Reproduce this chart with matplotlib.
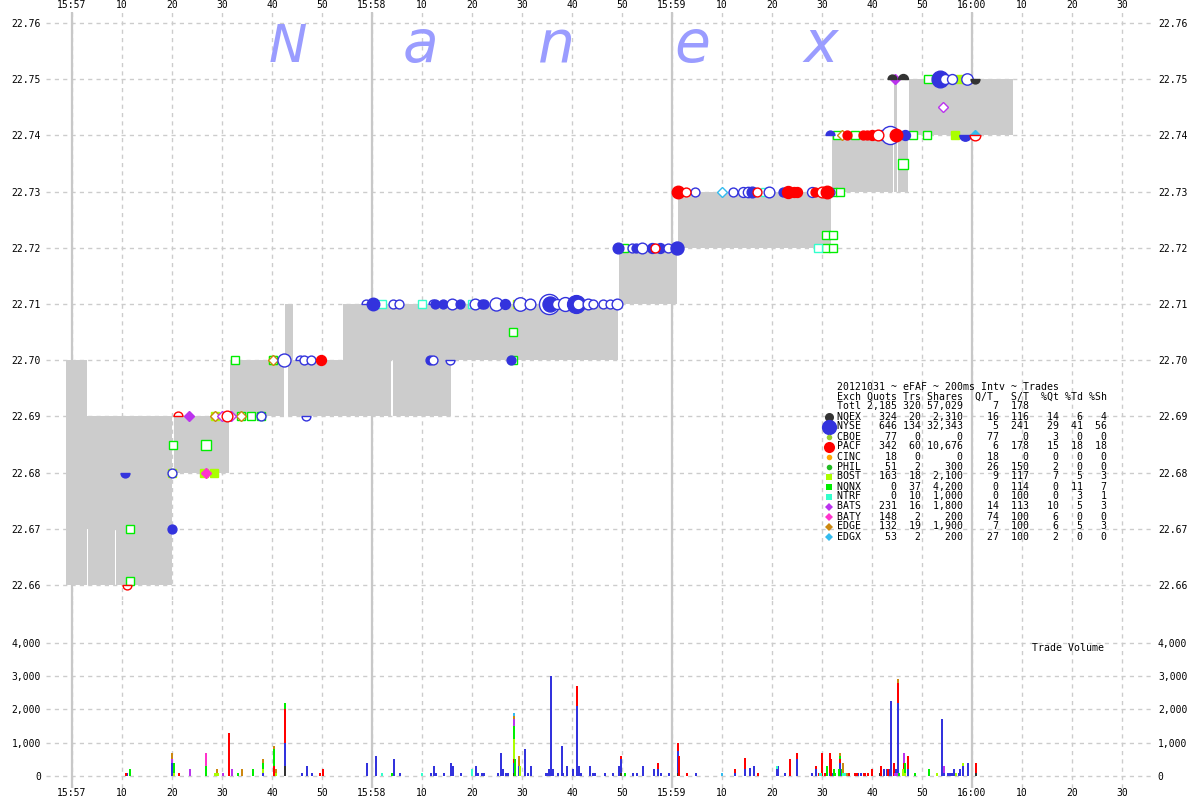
import matplotlib
matplotlib.use('Agg')
import matplotlib.pyplot as plt
from matplotlib.path import Path
from matplotlib.ticker import FuncFormatter
from collections import defaultdict
import numpy as np

# time axis: seconds after 15:57:00
# NBBO spread (start, end, bid, ask)
spr_t0 = [-1.2, 2.9, 3.2, 8.5, 8.8, 20.4, 31.6, 42.6, 43.2, 44.2, 54.2, 63.8, 64.2, 75.8,
          109.4, 121.2, 152.0, 164.4, 165.2, 167.4]
spr_t1 = [2.9, 3.2, 8.5, 8.8, 20.0, 31.4, 42.4, 43.2, 44.2, 54.2, 63.8, 64.2, 75.8, 109.2,
          121.0, 151.8, 164.2, 164.9, 167.2, 188.2]
spr_bid = [22.66, 22.67, 22.66, 22.67, 22.66, 22.68, 22.69, 22.70, 22.69, 22.69, 22.69, 22.70, 22.69, 22.70,
           22.71, 22.72, 22.73, 22.73, 22.73, 22.74]
spr_ask = [22.70, 22.69, 22.69, 22.69, 22.69, 22.69, 22.70, 22.71, 22.71, 22.70, 22.71, 22.71, 22.71, 22.71,
           22.72, 22.73, 22.74, 22.75, 22.74, 22.75]

# trade prints. kind: F filled, O hollow, T/t top half filled/hollow, B/b bottom half filled/hollow
nyse_t = [10.6, 20.0, 20.0, 37.8, 42.4, 45.6, 46.4, 47.8, 46.8, 58.8, 60.2, 64.2, 65.4, 71.6, 72.2, 75.6,
          72.2, 72.6, 74.2, 76.0, 77.6, 80.6, 82.0, 82.4, 84.8, 86.6, 87.8, 89.6, 91.6, 95.4, 95.6, 97.0,
          98.6, 100.8, 101.2, 103.2, 104.2, 106.2, 107.6, 109.0,
          109.2, 112.0, 112.8, 114.0, 116.0, 117.6, 119.2, 121.0,
          124.6, 132.2, 134.2, 135.2, 136.0, 139.4, 142.2, 148.0, 151.6,
          151.6, 162.0, 163.6, 166.6, 178.6, 173.6, 174.6, 176.0, 179.0]
nyse_px = [22.68, 22.68, 22.67, 22.69, 22.70, 22.70, 22.70, 22.70, 22.69, 22.71, 22.71, 22.71, 22.71, 22.70, 22.70, 22.70,
           22.71, 22.71, 22.71, 22.71, 22.71, 22.71, 22.71, 22.71, 22.71, 22.71, 22.70, 22.71, 22.71, 22.71, 22.71, 22.71,
           22.71, 22.71, 22.71, 22.71, 22.71, 22.71, 22.71, 22.71,
           22.72, 22.72, 22.72, 22.72, 22.72, 22.72, 22.72, 22.72,
           22.73, 22.73, 22.73, 22.73, 22.73, 22.73, 22.73, 22.73, 22.73,
           22.74, 22.74, 22.74, 22.74, 22.74, 22.75, 22.75, 22.75, 22.75]
nyse_sh = [100, 100, 100, 100, 700, 100, 100, 100, 100, 100, 600, 100, 100, 100, 100, 100,
           100, 100, 100, 300, 100, 300, 100, 100, 700, 200, 100, 800, 300, 3000, 1200, 200,
           900, 2100, 300, 300, 100, 100, 100, 300,
           300, 100, 100, 300, 200, 200, 100, 700,
           100, 100, 200, 250, 300, 300, 100, 200, 100,
           100, 200, 2200, 200, 400, 1700, 200, 200, 400]
nyse_kind = ['B', 'O', 'F', 'O', 'O', 't', 'O', 'O', 'b', 't', 'F', 'O', 'O', 'F', 'O', 'b',
             't', 'F', 'F', 'O', 'F', 'O', 'F', 'F', 'O', 'F', 'F', 'O', 'O', 'O', 'F', 'O',
             'O', 'F', 'O', 'O', 'O', 'O', 'O', 'O',
             'F', 'O', 'F', 'O', 'F', 'F', 'O', 'F',
             'O', 'O', 'O', 'O', 'F', 'O', 'F', 'O', 'O',
             'T', 'F', 'O', 'F', 'B', 'F', 'O', 'O', 'O']

pacf_t = [11.0, 21.2, 31.0, 49.8, 116.6, 121.2, 122.8, 137.0, 143.2, 144.4, 145.0, 148.6, 150.0, 151.0,
          155.0, 158.2, 159.0, 160.0, 161.2, 164.8, 180.6]
pacf_px = [22.66, 22.69, 22.69, 22.70, 22.72, 22.73, 22.73, 22.73, 22.73, 22.73, 22.73, 22.73, 22.73, 22.73,
           22.74, 22.74, 22.74, 22.74, 22.74, 22.74, 22.74]
pacf_sh = [100, 100, 300, 200, 100, 600, 100, 100, 500, 200, 200, 100, 300, 600,
           100, 100, 100, 200, 300, 600, 300]
pacf_kind = ['b', 't', 'O', 'F', 'O', 'F', 'O', 'O', 'F', 'F', 'F', 'F', 'O', 'F',
             'F', 'F', 'F', 'F', 'O', 'F', 'b']

nqex_t = [164.0, 166.2, 180.6]
nqex_px = [22.75, 22.75, 22.75]
nqex_sh = [100, 200, 100]
nqex_kind = ['T', 'T', 'B']

nqnx_t = [11.6, 11.6, 20.2, 26.8, 32.6, 33.8, 35.8, 37.8, 40.2, 88.2, 88.2, 110.4, 150.8, 152.2,
          150.8, 152.2, 152.2, 153.6, 153.0, 156.6, 165.0, 168.2, 171.0, 171.2, 166.2]
nqnx_px = [22.67, 22.6607, 22.685, 22.685, 22.70, 22.69, 22.69, 22.69, 22.70, 22.705, 22.70, 22.72, 22.7223, 22.7223,
           22.72, 22.72, 22.73, 22.73, 22.74, 22.74, 22.74, 22.74, 22.74, 22.75, 22.735]
nqnx_big = [0, 0, 0, 1, 0, 0, 0, 0, 0, 0, 0, 0, 0, 0, 0, 0, 0, 0, 0, 0, 0, 0, 0, 0, 1]

bost_t = [20.0, 26.4, 28.4, 28.6, 40.2, 89.0, 176.6, 177.6]
bost_px = [22.68, 22.68, 22.68, 22.69, 22.70, 22.71, 22.74, 22.75]
ntrf_t = [62.0, 70.0, 80.0, 138.6, 149.2]
ntrf_px = [22.71, 22.71, 22.71, 22.73, 22.72]

bats_t = [23.4, 30.0, 31.8, 164.6, 174.2]
bats_px = [22.69, 22.69, 22.69, 22.75, 22.745]
bats_kind = ['F', 'O', 'O', 'F', 'O']
baty_t = [26.8]
baty_px = [22.68]
edge_t = [28.6, 33.8, 40.2, 154.0]
edge_px = [22.69, 22.69, 22.70, 22.74]
edgx_t = [130.0, 180.6]
edgx_px = [22.73, 22.74]
edgx_kind = ['O', 'F']

# trade volume per 200ms interval
vol = {
    'NQEX': ([42.6, 88.4, 109.8, 121.2, 161.6, 166.4, 180.8],
             [300, 100, 100, 100, 100, 200, 100]),
    'NYSE': ([11.0, 20.0, 38.2, 42.6, 46.0, 47.0, 48.0, 59.0, 60.8, 64.4, 65.6, 71.8, 72.4, 72.8, 74.4, 75.8,
              76.2, 77.8, 80.8, 81.2, 82.0, 82.4, 85.2, 85.8, 86.2, 86.8, 87.2, 88.4, 89.4, 90.6, 91.2, 91.8,
              94.8, 95.2, 95.4, 95.8, 96.2, 97.2, 98.0, 98.2, 99.0, 100.2, 101.0, 101.4, 101.8, 103.6, 104.2,
              104.6, 106.6, 108.2, 109.4, 109.8, 112.2, 113.0, 114.2, 116.4, 117.2, 117.8, 119.4, 121.2, 124.8,
              132.6, 134.6, 135.6, 136.4, 141.0, 141.2, 142.6, 145.0, 148.0, 148.8, 151.6, 152.0, 153.6, 157.2,
              157.8, 162.4, 163.0, 163.6, 163.8, 164.8, 165.2, 167.2, 174.0, 174.4, 175.2, 175.6, 176.0, 176.4,
              176.6, 177.4, 177.6, 178.2, 179.2],
             [100, 400, 100, 700, 100, 300, 100, 400, 600, 500, 100, 100, 300, 100, 100, 400,
              300, 100, 300, 100, 100, 100, 100, 700, 200, 100, 100, 300, 300, 800, 100, 300,
              100, 100, 200, 3000, 200, 100, 900, 100, 300, 200, 2100, 300, 100, 300, 100,
              100, 100, 100, 300, 400, 100, 100, 300, 200, 200, 100, 100, 650, 100,
              100, 200, 250, 300, 200, 300, 100, 500, 100, 200, 100, 100, 400, 100,
              100, 200, 200, 200, 2250, 200, 2200, 200, 1700, 100, 100, 100, 100, 200,
              100, 100, 200, 300, 400]),
    'PACF': ([10.8, 21.4, 31.4, 40.4, 42.6, 49.6, 50.2, 88.4, 101.0, 109.8, 117.2, 121.2, 121.4, 123.0,
              132.6, 134.6, 137.2, 143.6, 145.0, 148.8, 149.4, 150.0, 150.6, 151.6, 151.8, 153.6, 155.4,
              156.6, 157.0, 158.4, 158.6, 159.2, 160.0, 161.8, 163.2, 164.4, 165.2, 166.4, 167.2, 180.8],
             [100, 100, 1300, 300, 1000, 100, 200, 100, 600, 100, 200, 250, 600, 100,
              100, 350, 100, 500, 200, 100, 100, 700, 100, 600, 500, 100, 100,
              100, 100, 100, 100, 100, 200, 300, 200, 400, 600, 200, 400, 300]),
    'NQNX': ([11.6, 20.4, 26.8, 33.2, 36.2, 38.2, 40.4, 42.6, 64.0, 88.4, 88.6, 110.6, 151.0, 152.4,
              152.6, 153.4, 153.6, 154.0, 165.4, 166.6, 168.6, 171.4],
             [200, 300, 300, 100, 200, 200, 500, 200, 100, 400, 500, 100, 300, 200,
              100, 200, 100, 200, 100, 300, 100, 200]),
    'BOST': ([20.4, 28.6, 29.0, 29.2, 38.2, 40.8, 88.4, 89.6, 166.2, 166.6, 173.0, 176.8, 178.2],
             [100, 100, 100, 100, 100, 100, 600, 300, 200, 100, 100, 100, 100]),
    'NTRF': ([62.0, 70.0, 80.0, 141.0, 149.6, 149.8, 154.2, 154.6],
             [100, 100, 200, 100, 100, 100, 100, 100]),
    'BATS': ([20.0, 23.6, 30.2, 32.0, 88.4, 164.6, 165.0, 166.4, 174.4],
             [100, 200, 100, 200, 200, 100, 100, 300, 200]),
    'BATY': ([26.8], [400]),
    'EDGE': ([20.0, 29.0, 34.0, 38.2, 40.4, 40.8, 88.4, 89.4, 153.6, 154.2, 155.0, 165.2],
             [200, 100, 200, 100, 100, 100, 100, 300, 100, 300, 100, 100]),
    'EDGX': ([88.4, 130.0], [100, 100]),
}

# summary table
exch = ['NQEX', 'NYSE', 'CBOE', 'PACF', 'CINC', 'PHIL', 'BOST', 'NQNX', 'NTRF', 'BATS', 'BATY', 'EDGE', 'EDGX']
quots = [324, 646, 77, 342, 18, 51, 163, 0, 0, 231, 148, 132, 53]
trs = [20, 134, 0, 60, 0, 2, 18, 37, 10, 16, 2, 19, 2]
shares = [2310, 32343, 0, 10676, 0, 300, 2100, 4200, 1000, 1800, 200, 1900, 200]
q_t = [16, 5, 77, 6, 18, 26, 9, 0, 0, 14, 74, 7, 27]
s_t = [116, 241, 0, 178, 0, 150, 117, 114, 100, 113, 100, 100, 100]
pct_qt = [14, 29, 3, 15, 0, 2, 7, 0, 0, 10, 6, 6, 2]
pct_td = [6, 41, 0, 18, 0, 0, 5, 11, 3, 5, 0, 5, 0]
pct_sh = [4, 56, 0, 18, 0, 0, 3, 7, 1, 3, 0, 3, 0]
totl = ['2,185', '320', '57,029', '7', '178']

colors = {'NQEX': '#333333', 'NYSE': '#3333dd', 'CBOE': '#99cc33', 'PACF': '#ff0000',
          'CINC': '#ffa500', 'PHIL': '#22bb22', 'BOST': '#aaff00', 'NQNX': '#00ee00',
          'NTRF': '#33ffcc', 'BATS': '#bb33ee', 'BATY': '#ff33cc', 'EDGE': '#cc8811',
          'EDGX': '#33bbee'}

MONO = 'DejaVu Sans Mono'
GRID = '#cccccc'
top_half = Path.wedge(0, 180)
bot_half = Path.wedge(180, 360)

fig = plt.figure(figsize=(12, 8), dpi=100)
W, H = 1200.0, 800.0
ax = fig.add_axes([46 / W, 1 - 600 / H, 1107 / W, 588 / H])
axv = fig.add_axes([46 / W, 1 - 788 / H, 1107 / W, 188 / H], sharex=ax)

ax.set_xlim(-5.2, 216.2)
ax.set_ylim(22.65733, 22.76196)
axv.set_ylim(-360, 5280)

xt = np.arange(0, 211, 10)


def tlab(v, pos=None):
    v = int(round(v))
    if v % 60 == 0:
        m = 57 + v // 60
        return '%d:%02d' % (15 + m // 60, m % 60)
    return str(v % 60)


for a in (ax, axv):
    for s in a.spines.values():
        s.set_visible(False)
    a.set_xticks(xt)
    a.xaxis.set_major_formatter(FuncFormatter(tlab))
    a.set_axisbelow(True)
    a.grid(True, color=GRID, ls=(0, (3, 3)), lw=1)
    for m in xt[xt % 60 == 0]:
        a.axvline(m, color='#c8c8c8', lw=1.6, zorder=0.6)
    a.tick_params(length=0, labelsize=7, labelleft=True, labelright=True, pad=3.5)

ax.xaxis.set_ticks_position('top')
ax.tick_params(axis='x', pad=1.5)
axv.tick_params(axis='x', pad=0.3)
ax.set_yticks(np.round(np.arange(22.66, 22.765, 0.01), 2))
ax.yaxis.set_major_formatter(FuncFormatter(lambda v, p: '%.2f' % v))
axv.set_yticks([0, 1000, 2000, 3000, 4000])
axv.yaxis.set_major_formatter(FuncFormatter(lambda v, p: '{:,}'.format(int(v))))
for lab in ax.get_xticklabels() + ax.get_yticklabels() + axv.get_xticklabels() + axv.get_yticklabels():
    lab.set_family(MONO)

# spread shading
ax.bar(spr_t0, np.array(spr_ask) - np.array(spr_bid), bottom=spr_bid,
       width=np.array(spr_t1) - np.array(spr_t0), align='edge', color='#cccccc', lw=0,
       zorder=1, antialiased=False)


def prints(t, px, ex, shape, ms, kinds):
    c = colors[ex]
    for i in range(len(t)):
        k = kinds[i]
        m = shape
        if k in 'Tt':
            m = top_half
        elif k in 'Bb':
            m = bot_half
        fc = c if k in 'FTB' else 'white'
        ax.plot(t[i], px[i], ls='none', marker=m, ms=ms[i], mfc=fc, mec=c, mew=1, zorder=4)


def circ(sh):
    return [4.6 + 1.8 * np.sqrt(s / 100.0) for s in sh]


prints(bost_t, bost_px, 'BOST', 's', [5.5] * len(bost_t), 'F' * len(bost_t))
prints(nqnx_t, nqnx_px, 'NQNX', 's', [7 if b else 5.5 for b in nqnx_big], 'O' * len(nqnx_t))
prints(ntrf_t, ntrf_px, 'NTRF', 's', [5.5] * len(ntrf_t), 'O' * len(ntrf_t))
prints(edge_t, edge_px, 'EDGE', 'D', [5] * len(edge_t), 'O' * len(edge_t))
prints(bats_t, bats_px, 'BATS', 'D', [5] * len(bats_t), bats_kind)
prints(baty_t, baty_px, 'BATY', 'D', [5], 'F')
prints(edgx_t, edgx_px, 'EDGX', 'D', [5] * len(edgx_t), edgx_kind)
prints(nyse_t, nyse_px, 'NYSE', 'o', circ(nyse_sh), nyse_kind)
prints(pacf_t, pacf_px, 'PACF', 'o', circ(pacf_sh), pacf_kind)
prints(nqex_t, nqex_px, 'NQEX', 'o', circ(nqex_sh), nqex_kind)

# volume bars stacked by exchange
bottoms = defaultdict(float)
for ex in exch:
    if ex not in vol:
        continue
    ts, vs = vol[ex]
    b = [bottoms[round(t, 1)] for t in ts]
    axv.bar(ts, vs, bottom=b, width=0.3, color=colors[ex], lw=0, zorder=2)
    for t, v in zip(ts, vs):
        bottoms[round(t, 1)] += v

# overlay in pixel coordinates for watermark, table and captions
ov = fig.add_axes([0, 0, 1, 1], zorder=10)
ov.set_xlim(0, W)
ov.set_ylim(H, 0)
ov.axis('off')
ov.patch.set_alpha(0)

for ch, x, fs in zip('Nanex', [288, 420, 556, 692, 821], [37, 42, 42, 42, 42]):
    ov.text(x, 62, ch, fontsize=fs, style='italic', color='#9a9cff', ha='center', va='baseline',
            family='DejaVu Sans')

lines = ['20121031 ~ eFAF ~ 200ms Intv ~ Trades',
         'Exch Quots Trs Shares  Q/T   S/T  %Qt %Td %Sh',
         'Totl%6s%4s%7s%6s%5s' % tuple(totl)]
for i, ex in enumerate(exch):
    lines.append('%-4s%6s%4s%7s%6s%5s%5s%4s%4s' % (
        ex, '{:,}'.format(quots[i]), trs[i], '{:,}'.format(shares[i]), q_t[i], s_t[i],
        pct_qt[i], pct_td[i], pct_sh[i]))
for i, ln in enumerate(lines):
    ov.text(837, 386.5 + 10 * i, ln, family=MONO, fontsize=7.15, va='center', ha='left')

leg_mk = {'NQEX': ('o', 6.5), 'NYSE': ('o', 11), 'CBOE': ('o', 4), 'PACF': ('o', 8),
          'CINC': ('o', 4), 'PHIL': ('o', 4), 'BOST': ('s', 4.2), 'NQNX': ('s', 4.2),
          'NTRF': ('s', 4.2), 'BATS': ('D', 4.2), 'BATY': ('D', 4.2), 'EDGE': ('D', 4.2),
          'EDGX': ('D', 4.2)}
for i, ex in enumerate(exch):
    mk, ms = leg_mk[ex]
    ov.plot(829, 416.5 + 10 * i, marker=mk, ms=ms, color=colors[ex], mew=0, ls='none')

ov.text(1032, 648, 'Trade Volume', family=MONO, fontsize=7.15, va='center', ha='left')

fig.savefig('out.png', dpi=100)
